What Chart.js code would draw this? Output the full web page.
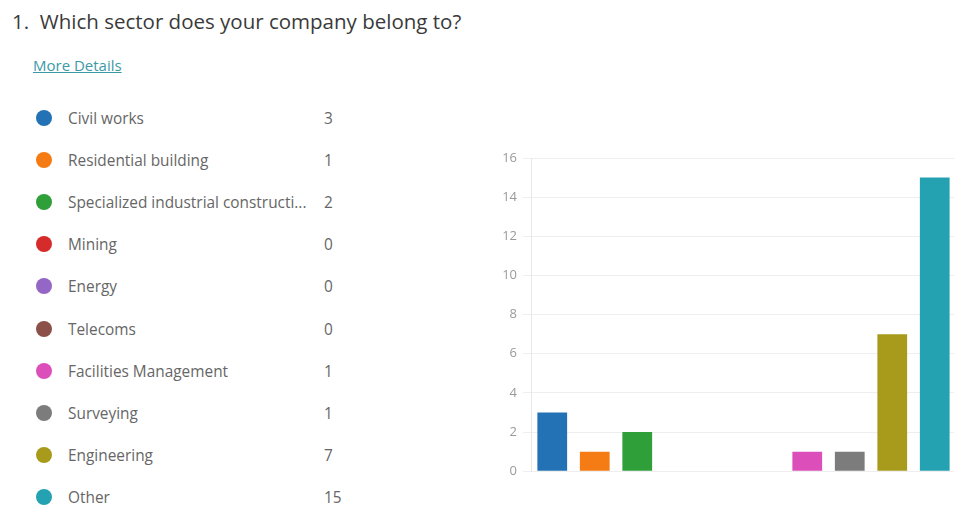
<!DOCTYPE html>
<html>
<head>
<meta charset="utf-8">
<script src="https://cdn.jsdelivr.net/npm/chart.js@4"></script>
<style>
  html, body {
    margin: 0;
    padding: 0;
    background: #fff;
    overflow: hidden;
    width: 954px;
    height: 506px;
    font-family: "Open Sans", "Noto Sans", sans-serif;
  }
  #title {
    position: absolute;
    left: 12px;
    top: 7px;
    font-size: 20.5px;
    color: #3a3a3a;
    white-space: nowrap;
  }
  #more {
    position: absolute;
    left: 33px;
    top: 55px;
    font-size: 15px;
    color: #3c9aa6;
    text-decoration: underline;
  }
  .row {
    position: absolute;
    left: 36px;
    height: 20px;
    width: 310px;
    font-size: 15.4px;
    color: #666;
  }
  .dot {
    position: absolute;
    left: 0;
    top: 2px;
    width: 16px;
    height: 16px;
    border-radius: 50%;
  }
  .lbl {
    position: absolute;
    left: 32px;
    top: 0;
    white-space: nowrap;
  }
  .val {
    position: absolute;
    left: 288px;
    top: 0;
  }
  #wrap {
    position: absolute;
    left: 476px;
    top: 140px;
    width: 480px;
    height: 345px;
  }
</style>
</head>
<body>
<div id="title">1.&nbsp; Which sector does your company belong to?</div>
<div id="more">More Details</div>
<div id="legend"></div>
<div id="wrap"><canvas id="chart"></canvas></div>
<script>
const sectors = [
  "Civil works",
  "Residential building",
  "Specialized industrial constructi...",
  "Mining",
  "Energy",
  "Telecoms",
  "Facilities Management",
  "Surveying",
  "Engineering",
  "Other",
];
const counts = [3, 1, 2, 0, 0, 0, 1, 1, 7, 15];
const sector_colors = [
  "#2272b5",
  "#f57b14",
  "#2e9f39",
  "#d62b2b",
  "#9466c6",
  "#8b5148",
  "#dc4fba",
  "#7c7c7c",
  "#a89b1c",
  "#25a2b2",
];
const y_ticks = [0, 2, 4, 6, 8, 10, 12, 14, 16];

function buildLegend() {
  const legend = document.getElementById("legend");
  for (let i = 0; i < sectors.length; i++) {
    const row = document.createElement("div");
    row.className = "row";
    row.style.top = 108 + i * 42.1 + "px";
    row.innerHTML =
      `<span class="dot" style="background:${sector_colors[i]}"></span>` +
      `<span class="lbl">${sectors[i]}</span>` +
      `<span class="val">${counts[i]}</span>`;
    legend.appendChild(row);
  }
}

function setupChart() {
  const data = {
    labels: sectors,
    datasets: [
      {
        data: counts,
        backgroundColor: sector_colors,
        borderWidth: 0,
        barPercentage: 0.7,
        categoryPercentage: 1.0,
      },
    ],
  };

  const config = {
    type: "bar",
    data: data,
    options: {
      responsive: true,
      maintainAspectRatio: false,
      animation: false,
      layout: { padding: { top: 18, bottom: 10, left: 0, right: 0 } },
      plugins: { legend: { display: false }, tooltip: { enabled: false } },
      scales: {
        x: { display: false },
        y: {
          min: y_ticks[0],
          max: y_ticks[y_ticks.length - 1],
          afterFit: function (scale) {
            scale.width = 55;
          },
          afterBuildTicks: function (scale) {
            scale.ticks = y_ticks.map((v) => ({ value: v }));
          },
          ticks: {
            color: "#9a9a9a",
            padding: 6,
            font: { family: "Open Sans", size: 13 },
          },
          grid: { color: "#eeeeee", tickLength: 8 },
          border: { color: "#e8e8e8" },
        },
      },
    },
  };

  new Chart(document.getElementById("chart"), config);
}

buildLegend();
setupChart();
</script>
</body>
</html>
